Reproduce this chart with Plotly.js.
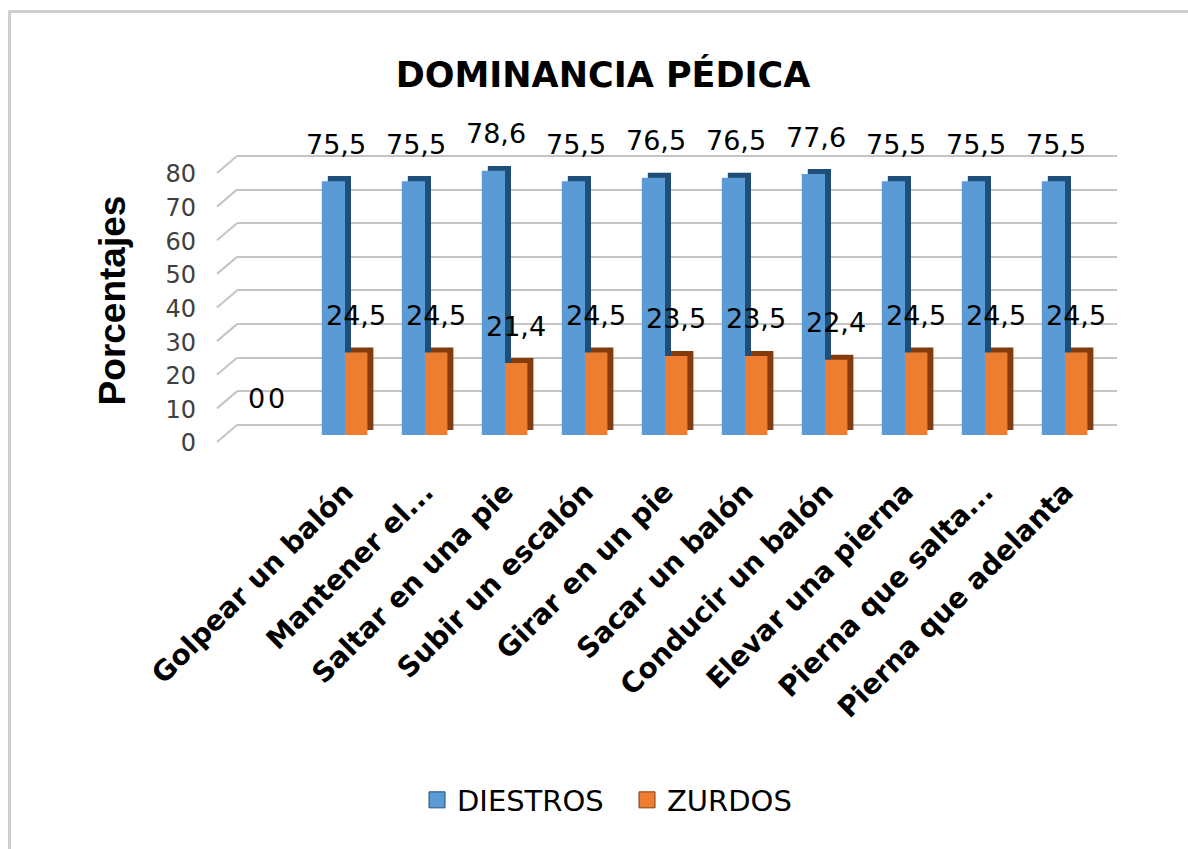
<!DOCTYPE html>
<html>
<head>
<meta charset="utf-8">
<script src="https://cdn.plot.ly/plotly-3.0.1.min.js"></script>
<style>
  html, body { margin: 0; padding: 0; background: #ffffff; }
  #chart { width: 1188px; height: 849px; position: absolute; left: 0; top: 0; }
  #frame { position: absolute; left: 8px; top: 10px; width: 1300px; height: 1000px;
           border-left: 3px solid #cfcfcf; border-top: 3px solid #cfcfcf; pointer-events: none; }
</style>
</head>
<body>
<div id="chart"></div>
<div id="frame"></div>
<script>
// ---- data ----
const categories = [' ', 'Golpear un balón', 'Mantener el...', 'Saltar en una pie', 'Subir un escalón',
                    'Girar en un pie', 'Sacar un balón', 'Conducir un balón', 'Elevar una pierna',
                    'Pierna que salta...', 'Pierna que adelanta'];
const diestros = [0, 75.5, 75.5, 78.6, 75.5, 76.5, 76.5, 77.6, 75.5, 75.5, 75.5];
const zurdos   = [0, 24.5, 24.5, 21.4, 24.5, 23.5, 23.5, 22.4, 24.5, 24.5, 24.5];
const seriesNames = ['DIESTROS', 'ZURDOS'];
const yTicks = [0, 10, 20, 30, 40, 50, 60, 70, 80];

// ---- style ----
const W = 1188, H = 849;
const BLUE = '#5b9bd5', BLUE_DARK = '#1f4e79';
const ORANGE = '#ed7d31', ORANGE_DARK = '#843c0c';
const GRID = '#c4c4c4';
const DX = 0.075;   // 3D depth (category units)
const DY = 1.5;     // 3D depth (value units)
const BACK_LEFT = 237, BACK_BOTTOM = 425, BACK_TOP = 156;   // back wall, px
const PX_PER_UNIT = (BACK_BOTTOM - BACK_TOP) / 80;
const fmt = v => String(v).replace('.', ',');

function frontBar(vals, color, offset, width) {
  return {
    type: 'bar', x: categories, y: vals, xaxis: 'x2', yaxis: 'y2',
    offset: offset, width: width,
    marker: { color: color, line: { width: 0 } },
    showlegend: false, hoverinfo: 'skip'
  };
}
function depthBar(vals, color, offset, width) {
  return {
    type: 'bar', x: categories, y: vals, base: DY, xaxis: 'x2', yaxis: 'y2',
    offset: offset + DX, width: width,
    marker: { color: color, line: { width: 0 } },
    showlegend: false, hoverinfo: 'skip', cliponaxis: false
  };
}
function legendItem(name, color, dark) {
  return {
    type: 'scatter', mode: 'markers', x: [null], y: [null], xaxis: 'x2', yaxis: 'y2',
    name: name, marker: { symbol: 'square', size: 16, color: color, line: { color: dark, width: 1 } },
    showlegend: true, hoverinfo: 'skip'
  };
}
function valueLabels(vals, xshift) {
  return vals.map((v, i) => ({
    xref: 'x2', yref: 'y2', x: categories[i], y: v, text: fmt(v),
    showarrow: false, xanchor: 'center', yanchor: 'middle', xshift: xshift, yshift: 37,
    font: { family: 'DejaVu Sans', size: 27, color: '#000000' }
  }));
}
// side-wall depth lines (one per gridline level)
const wallLines = yTicks.map(t => {
  const yb = BACK_BOTTOM - t * PX_PER_UNIT;
  return {
    type: 'line', xref: 'paper', yref: 'paper',
    x0: BACK_LEFT / W, x1: (BACK_LEFT - 20) / W,
    y0: 1 - yb / H, y1: 1 - (yb + 17) / H,
    line: { color: GRID, width: 2 }, layer: 'below'
  };
});

const data = [
  // back-wall subplot (carries the gridlines only)
  { type: 'scatter', mode: 'markers', x: [null], y: [null], xaxis: 'x', yaxis: 'y',
    showlegend: false, hoverinfo: 'skip' },
  depthBar(diestros, BLUE_DARK, -0.29, 0.29),
  frontBar(diestros, BLUE, -0.29, 0.29),
  depthBar(zurdos, ORANGE_DARK, 0.0, 0.28),
  frontBar(zurdos, ORANGE, 0.0, 0.28),
  legendItem(seriesNames[0], BLUE, BLUE_DARK),
  legendItem(seriesNames[1], ORANGE, ORANGE_DARK)
];

const pad = 0.5 * PX_PER_UNIT;
const layout = {
  width: W, height: H,
  margin: { l: 0, r: 0, t: 0, b: 0 },
  paper_bgcolor: '#ffffff', plot_bgcolor: 'rgba(0,0,0,0)',
  separators: ',.',
  barmode: 'overlay',
  showlegend: true,
  title: {
    text: 'DOMINANCIA PÉDICA', x: 603 / W, xref: 'container', xanchor: 'center',
    y: 1 - 75 / H, yref: 'container', yanchor: 'middle',
    font: { family: 'DejaVu Sans', size: 35, weight: 'bold', color: '#000000' }
  },
  // back wall (gridlines)
  xaxis: { domain: [BACK_LEFT / W, 1117 / W], anchor: 'y', range: [-0.5, 10.5], type: 'linear',
           showgrid: false, zeroline: false, showline: false, showticklabels: false, ticks: '', fixedrange: true },
  yaxis: { domain: [1 - (BACK_BOTTOM + pad) / H, 1 - (BACK_TOP - pad) / H], anchor: 'x', range: [-0.5, 80.5],
           tickvals: yTicks, showgrid: true, gridcolor: GRID, gridwidth: 2, zeroline: false, showline: false,
           showticklabels: false, ticks: '', fixedrange: true },
  // front (bars)
  xaxis2: { domain: [225 / W, 1105 / W], anchor: 'y2', type: 'category', range: [-0.5, 10.5],
            showgrid: false, zeroline: false, showline: false, ticks: '',
            tickangle: -45, ticklabelstandoff: 34,
            tickfont: { family: 'DejaVu Sans', size: 28, weight: 'bold', color: '#000000' },
            fixedrange: true },
  yaxis2: { domain: [1 - 435 / H, 1 - 166 / H], anchor: 'x2', range: [0, 80], tickvals: yTicks,
            showgrid: false, zeroline: false, showline: false, ticks: '',
            ticklabelstandoff: 28, ticklabelshift: 8,
            tickfont: { family: 'DejaVu Sans', size: 24, color: '#404040' },
            title: { text: 'Porcentajes', standoff: 28,
                     font: { family: 'Liberation Sans', size: 37, weight: 'bold', color: '#000000' } },
            fixedrange: true },
  legend: {
    orientation: 'h', x: 627 / W, xanchor: 'center',
    y: 1 - 800 / H, yanchor: 'middle',
    font: { family: 'DejaVu Sans', size: 29, color: '#000000' },
    itemwidth: 30, entrywidth: 165, bgcolor: 'rgba(0,0,0,0)'
  },
  shapes: wallLines,
  annotations: valueLabels(diestros, -9).concat(valueLabels(zurdos, 11))
};

Plotly.newPlot('chart', data, layout, { staticPlot: true, displayModeBar: false });
</script>
</body>
</html>
